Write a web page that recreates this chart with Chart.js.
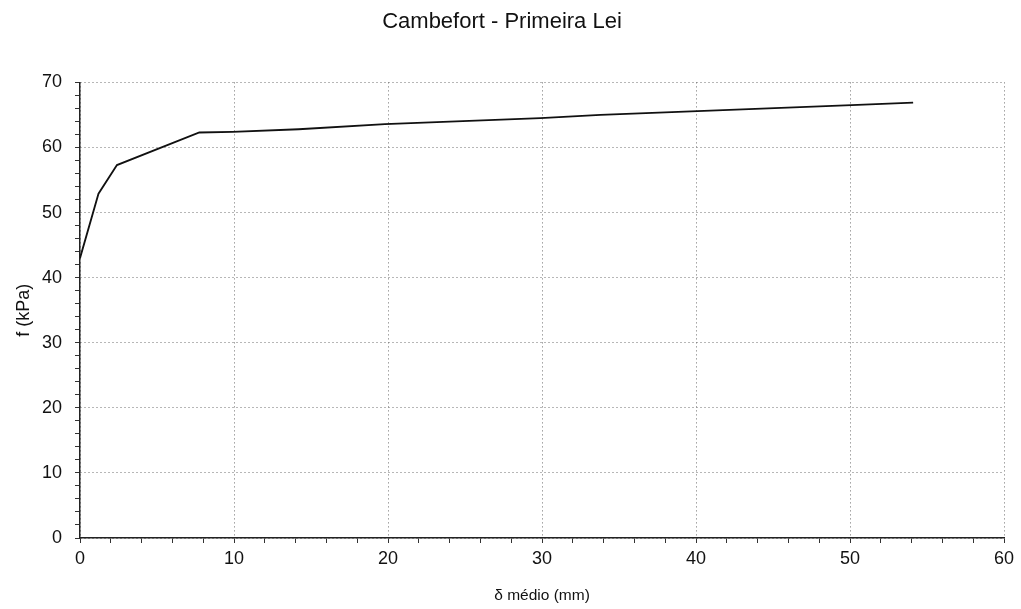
<!DOCTYPE html>
<html>
<head>
<meta charset="utf-8">
<script src="https://cdn.jsdelivr.net/npm/chart.js@4/dist/chart.umd.min.js"></script>
<style>
  html, body { margin: 0; padding: 0; background: #fff; }
  #wrap { width: 1021px; height: 609px; }
</style>
</head>
<body>
<div id="wrap"><canvas id="c" width="1021" height="609"></canvas></div>
<script>
// Displacement (mm) and unit friction (kPa)
const deltaMedio = [0, 1.2, 2.4, 7.75, 9.9, 14.2, 19.8, 29.9, 33.8, 40.1, 50.1, 54.1];
const fKPa       = [43.0, 52.9, 57.3, 62.3, 62.4, 62.8, 63.6, 64.5, 65.0, 65.6, 66.5, 66.9];

const xTicksMajor = [0, 10, 20, 30, 40, 50, 60];
const yTicksMajor = [0, 10, 20, 30, 40, 50, 60, 70];

const points = deltaMedio.map((x, i) => ({ x: x, y: fKPa[i] }));

const FONT = "'Liberation Sans', Arial, sans-serif";
const gridColor = ctx => (ctx.tick && ctx.tick.value % 10 === 0) ? '#6f6f6f' : 'rgba(0,0,0,0)';

new Chart(document.getElementById('c'), {
  type: 'line',
  data: {
    datasets: [{
      data: points,
      borderColor: '#111',
      borderWidth: 1.8,
      pointRadius: 0,
      tension: 0,
      fill: false
    }]
  },
  options: {
    responsive: false,
    animation: false,
    layout: { padding: { left: 0, right: 17, top: 0, bottom: 0 } },
    plugins: {
      legend: { display: false },
      tooltip: { enabled: false },
      title: {
        display: true,
        text: 'Cambefort - Primeira Lei',
        color: '#111',
        font: { family: FONT, size: 22, weight: 'normal', lineHeight: 1.2 },
        padding: { top: 9, bottom: 47 }
      }
    },
    scales: {
      x: {
        type: 'linear',
        min: 0, max: 60,
        afterFit: s => { s.height = 71; },
        ticks: {
          stepSize: 2,
          autoSkip: false,
          maxRotation: 0,
          padding: 5,
          color: '#111',
          font: { family: FONT, size: 18 },
          callback: v => xTicksMajor.includes(v) ? String(v) : ''
        },
        grid: {
          color: gridColor,
          lineWidth: 1,
          tickColor: '#333',
          tickLength: 5,
          tickBorderDash: []
        },
        border: { display: true, color: '#222', width: 1.5, dash: [1, 3] },
        title: {
          display: true,
          text: 'δ médio (mm)',
          color: '#111',
          font: { family: FONT, size: 15.5, lineHeight: 1.2 },
          padding: { top: 4, bottom: 4 }
        }
      },
      y: {
        type: 'linear',
        min: 0, max: 70,
        afterFit: s => { s.width = 80; },
        ticks: {
          stepSize: 2,
          autoSkip: false,
          padding: 13,
          color: '#111',
          font: { family: FONT, size: 18 },
          callback: v => yTicksMajor.includes(v) ? String(v) : ''
        },
        grid: {
          color: gridColor,
          lineWidth: 1,
          tickColor: '#333',
          tickLength: 5,
          tickBorderDash: []
        },
        border: { display: true, color: '#222', width: 1.5, dash: [1, 3] },
        title: {
          display: true,
          text: 'f (kPa)',
          color: '#111',
          font: { family: FONT, size: 18, lineHeight: 1.2 },
          padding: { top: 13, bottom: 4 }
        }
      }
    }
  }
});
</script>
</body>
</html>
